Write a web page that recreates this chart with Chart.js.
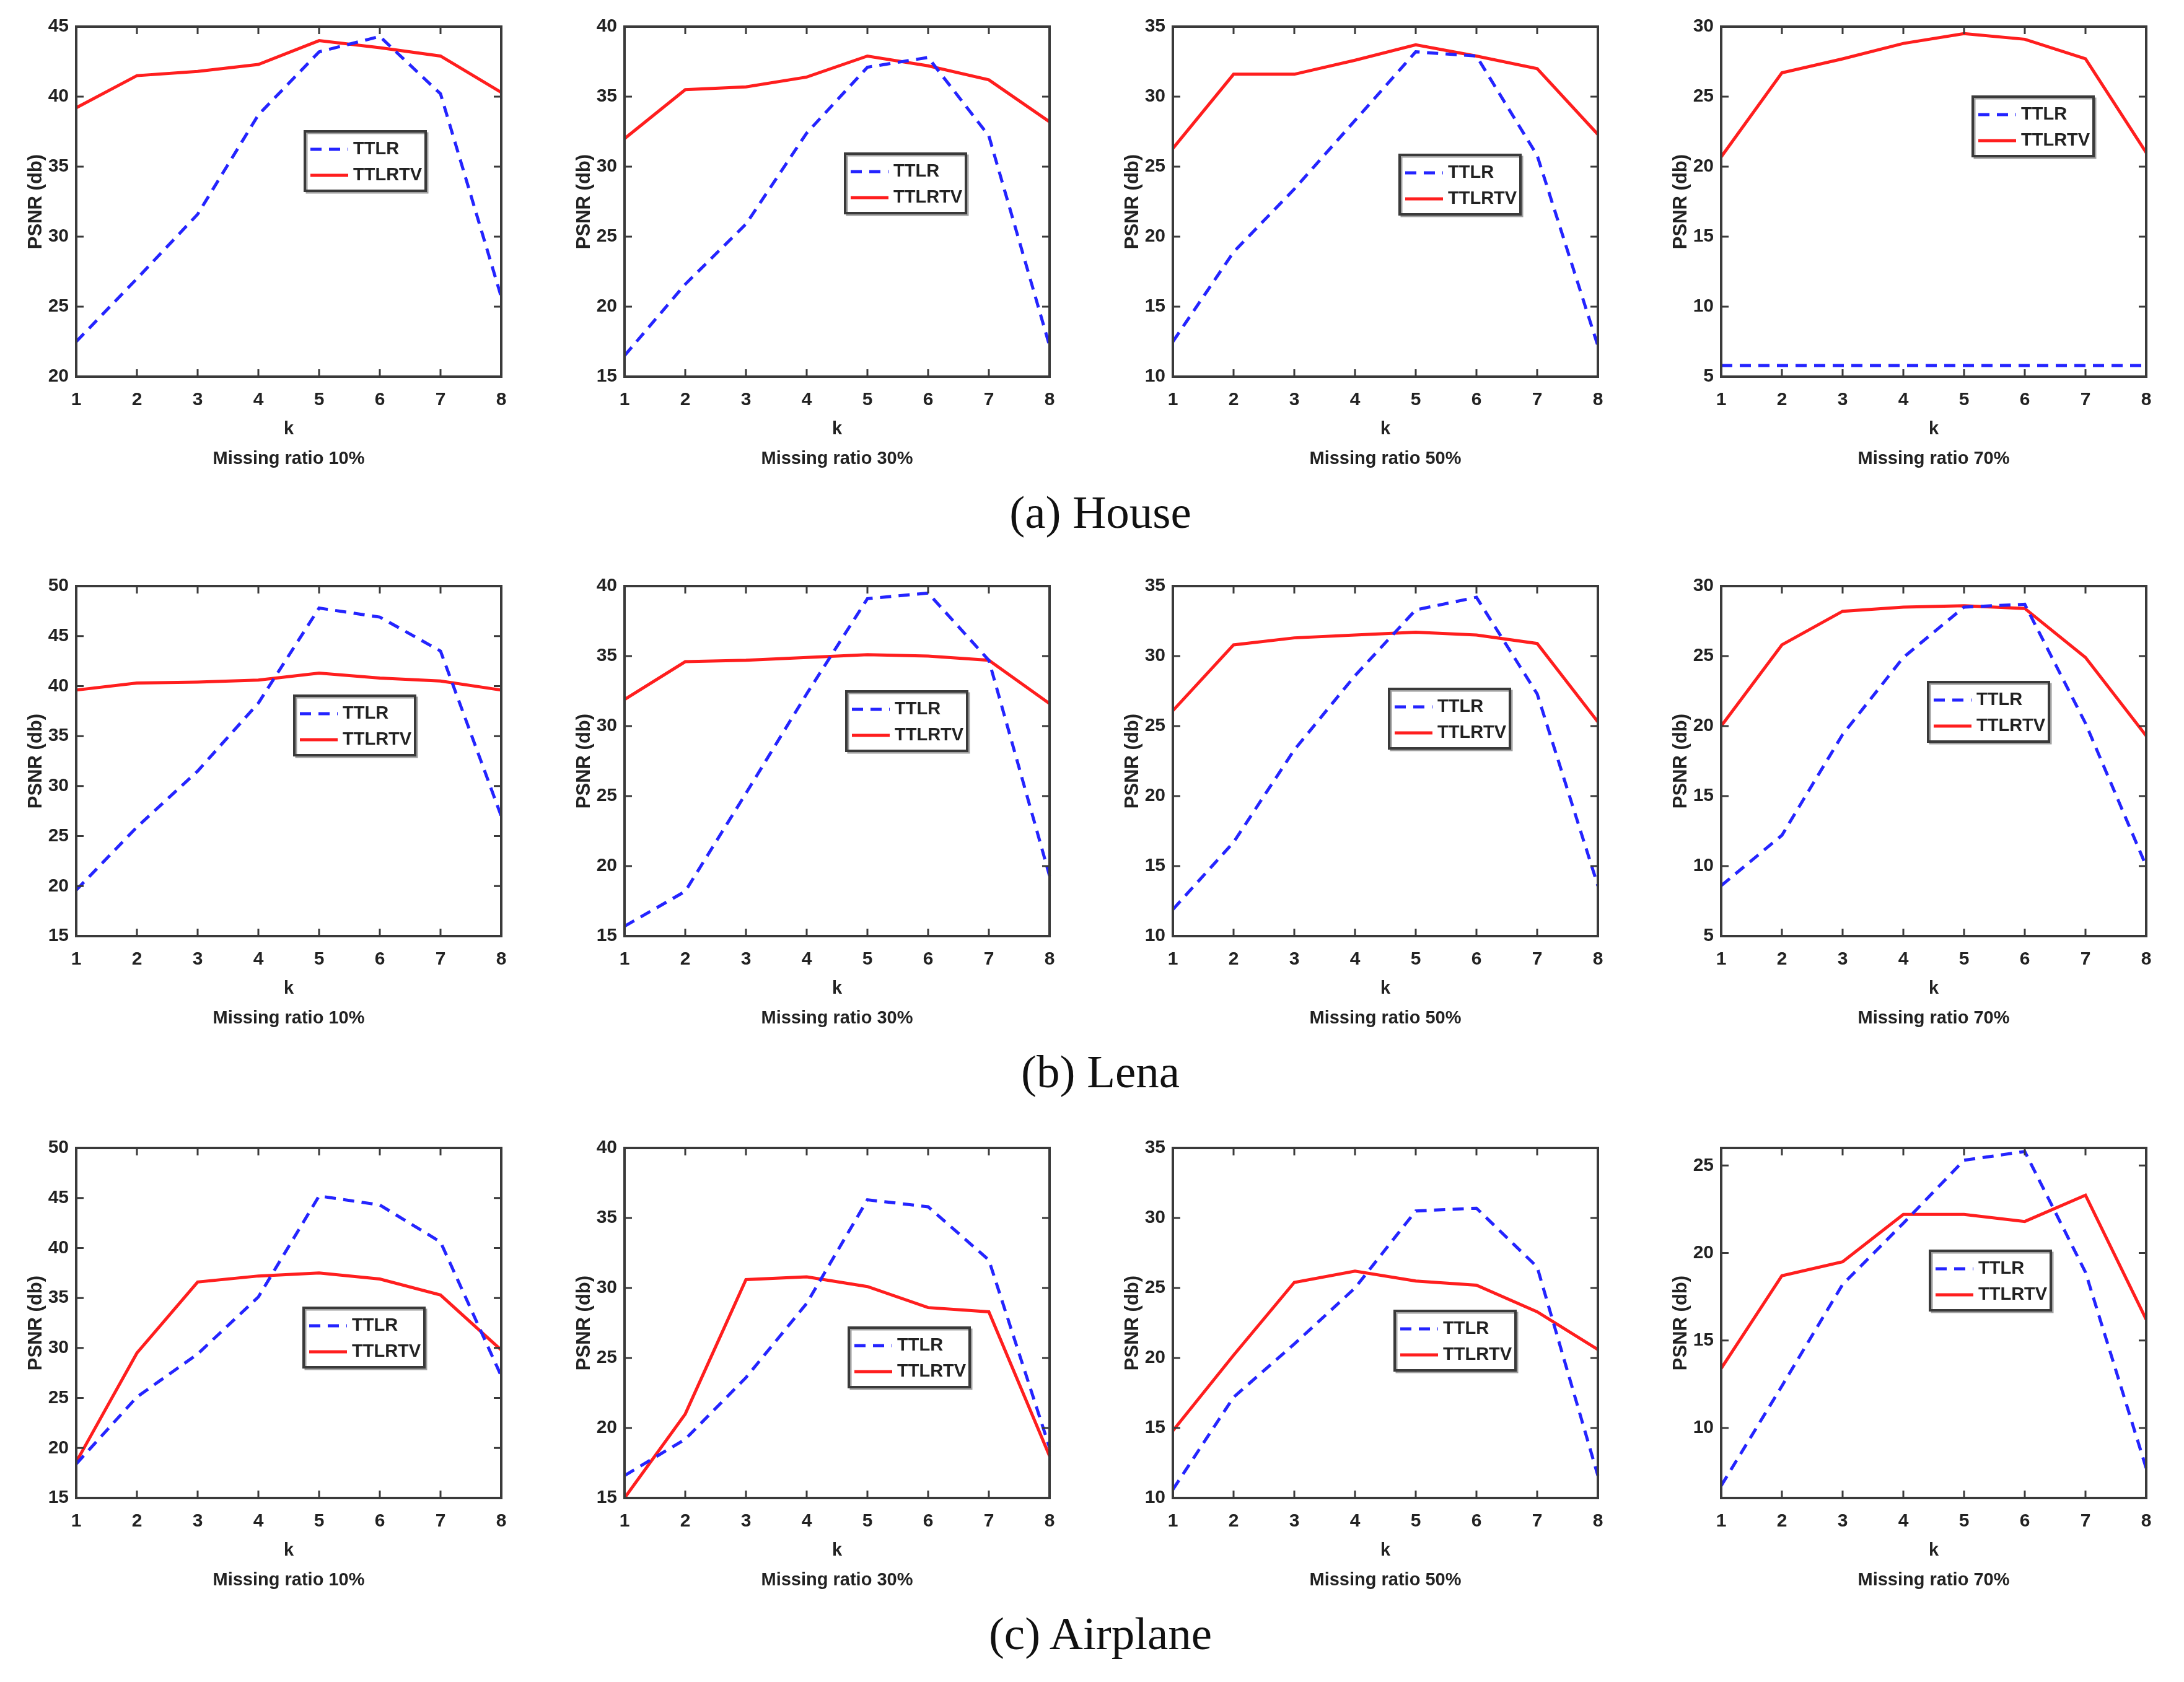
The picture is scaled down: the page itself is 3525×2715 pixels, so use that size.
<!DOCTYPE html>
<html><head><meta charset="utf-8">
<script src="https://cdn.jsdelivr.net/npm/chart.js@4.4.1/dist/chart.umd.min.js"></script>
<style>
html,body{margin:0;padding:0;background:#fff;}
body{width:3525px;height:2715px;position:relative;overflow:hidden;}
canvas{position:absolute;}
.cap{position:absolute;left:1276px;width:1000px;text-align:center;font-family:"Liberation Serif","DejaVu Serif",serif;font-size:75px;line-height:75px;color:#111;}
</style></head><body>
<script>
// ---------- data ----------
const kValues = [1, 2, 3, 4, 5, 6, 7, 8];
const missingRatios = ['10%', '30%', '50%', '70%'];
const imageCaptions = ['(a) House', '(b) Lena', '(c) Airplane'];
const seriesNames = ['TTLR', 'TTLRTV'];

// House
const house10_TTLR   = [22.5, 27.0, 31.6, 38.7, 43.2, 44.3, 40.2, 25.7];
const house10_TTLRTV = [39.2, 41.5, 41.8, 42.3, 44.0, 43.5, 42.9, 40.3];
const house30_TTLR   = [16.5, 21.6, 25.9, 32.4, 37.1, 37.8, 32.2, 17.2];
const house30_TTLRTV = [32.0, 35.5, 35.7, 36.4, 37.9, 37.2, 36.2, 33.2];
const house50_TTLR   = [12.5, 18.9, 23.4, 28.3, 33.2, 32.9, 25.8, 12.2];
const house50_TTLRTV = [26.3, 31.6, 31.6, 32.6, 33.7, 32.9, 32.0, 27.3];
const house70_TTLR   = [5.8, 5.8, 5.8, 5.8, 5.8, 5.8, 5.8, 5.8];
const house70_TTLRTV = [20.7, 26.7, 27.7, 28.8, 29.5, 29.1, 27.7, 21.0];

// Lena
const lena10_TTLR   = [19.6, 25.9, 31.5, 38.3, 47.8, 46.9, 43.5, 27.0];
const lena10_TTLRTV = [39.6, 40.3, 40.4, 40.6, 41.3, 40.8, 40.5, 39.6];
const lena30_TTLR   = [15.7, 18.2, 25.2, 32.3, 39.1, 39.5, 34.7, 19.3];
const lena30_TTLRTV = [31.9, 34.6, 34.7, 34.9, 35.1, 35.0, 34.7, 31.6];
const lena50_TTLR   = [11.9, 16.7, 23.3, 28.6, 33.3, 34.2, 27.3, 13.6];
const lena50_TTLRTV = [26.1, 30.8, 31.3, 31.5, 31.7, 31.5, 30.9, 25.3];
const lena70_TTLR   = [8.6, 12.2, 19.4, 24.9, 28.5, 28.7, 20.2, 10.0];
const lena70_TTLRTV = [20.0, 25.8, 28.2, 28.5, 28.6, 28.4, 24.9, 19.3];

// Airplane
const air10_TTLR   = [18.4, 25.1, 29.4, 35.1, 45.2, 44.3, 40.6, 27.2];
const air10_TTLRTV = [18.6, 29.5, 36.6, 37.2, 37.5, 36.9, 35.3, 29.8];
const air30_TTLR   = [16.6, 19.2, 23.6, 28.9, 36.3, 35.8, 32.0, 18.6];
const air30_TTLRTV = [15.0, 21.0, 30.6, 30.8, 30.1, 28.6, 28.3, 18.0];
const air50_TTLR   = [10.6, 17.2, 21.0, 25.0, 30.5, 30.7, 26.5, 11.6];
const air50_TTLRTV = [14.8, 20.2, 25.4, 26.2, 25.5, 25.2, 23.3, 20.6];
const air70_TTLR   = [6.7, 12.4, 18.2, 21.7, 25.3, 25.8, 18.9, 7.7];
const air70_TTLRTV = [13.4, 18.7, 19.5, 22.2, 22.2, 21.8, 23.3, 16.2];

// axis ranges and tick labels per row (columns = missing ratios)
const houseYMin = [20, 15, 10, 5];
const houseYMax = [45, 40, 35, 30];
const lenaYMin  = [15, 15, 10, 5];
const lenaYMax  = [50, 40, 35, 30];
const airYMin   = [15, 15, 10, 6];
const airYMax   = [50, 40, 35, 26];
const houseYTicks = [[20,25,30,35,40,45],[15,20,25,30,35,40],[10,15,20,25,30,35],[5,10,15,20,25,30]];
const lenaYTicks  = [[15,20,25,30,35,40,45,50],[15,20,25,30,35,40],[10,15,20,25,30,35],[5,10,15,20,25,30]];
const airYTicks   = [[15,20,25,30,35,40,45,50],[15,20,25,30,35,40],[10,15,20,25,30,35],[10,15,20,25]];

// ---------- layout ----------
const colLeft = [123, 1008, 1893, 2778];
const rowTop = [43, 946, 1853];
const plotW = 686, plotH = 565;
const yAxisW = 123, xAxisH = 160, padTop = 40, padRight = 30;
const legendOffsets = [
  [[369, 169], [356, 205], [366, 207], [406, 113]],
  [[352, 177], [358, 170], [349, 166], [334, 155]],
  [[367, 258], [362, 290], [358, 263], [337, 166]]
];
const captionTopOffset = 746;

const axisColor = '#3a3a3a';
const textColor = '#222222';
const blue = '#2424ff';
const red = '#ff1e1e';
const fam = '"Liberation Sans", Arial, sans-serif';

const rows = [
  {series: [[house10_TTLR, house10_TTLRTV], [house30_TTLR, house30_TTLRTV], [house50_TTLR, house50_TTLRTV], [house70_TTLR, house70_TTLRTV]],
   ymin: houseYMin, ymax: houseYMax, ticks: houseYTicks},
  {series: [[lena10_TTLR, lena10_TTLRTV], [lena30_TTLR, lena30_TTLRTV], [lena50_TTLR, lena50_TTLRTV], [lena70_TTLR, lena70_TTLRTV]],
   ymin: lenaYMin, ymax: lenaYMax, ticks: lenaYTicks},
  {series: [[air10_TTLR, air10_TTLRTV], [air30_TTLR, air30_TTLRTV], [air50_TTLR, air50_TTLRTV], [air70_TTLR, air70_TTLRTV]],
   ymin: airYMin, ymax: airYMax, ticks: airYTicks}
];

// box + inward ticks (MATLAB style)
const boxPlugin = {
  id: 'matlabBox',
  afterDatasetsDraw(chart) {
    const {ctx, chartArea: a} = chart;
    const x = chart.scales.x, y = chart.scales.y;
    const tl = 12;
    ctx.save();
    ctx.strokeStyle = axisColor;
    ctx.lineWidth = 3;
    ctx.beginPath();
    x.ticks.forEach((t, i) => {
      const px = x.getPixelForTick(i);
      ctx.moveTo(px, a.bottom); ctx.lineTo(px, a.bottom - tl);
      ctx.moveTo(px, a.top); ctx.lineTo(px, a.top + tl);
    });
    y.ticks.forEach(t => {
      const py = y.getPixelForValue(t.value);
      ctx.moveTo(a.left, py); ctx.lineTo(a.left + tl, py);
      ctx.moveTo(a.right, py); ctx.lineTo(a.right - tl, py);
    });
    ctx.stroke();
    ctx.lineWidth = 4;
    ctx.strokeRect(a.left, a.top, a.right - a.left, a.bottom - a.top);
    ctx.restore();
  }
};

// legend box inside the axes
const boxLegendPlugin = {
  id: 'boxLegend',
  afterDraw(chart, args, opts) {
    const {ctx, chartArea: a} = chart;
    const bx = a.left + opts.dx, by = a.top + opts.dy, bw = 195, bh = 96;
    ctx.save();
    ctx.fillStyle = '#fff';
    ctx.fillRect(bx, by, bw, bh);
    ctx.strokeStyle = '#a0a0a0';
    ctx.lineWidth = 3;
    ctx.strokeRect(bx + 3, by + 3, bw, bh);
    ctx.strokeStyle = axisColor;
    ctx.lineWidth = 4;
    ctx.strokeRect(bx, by, bw, bh);
    chart.data.datasets.forEach((ds, i) => {
      const ey = by + 29 + i * 42;
      ctx.strokeStyle = ds.borderColor;
      ctx.lineWidth = ds.borderWidth;
      ctx.setLineDash(ds.borderDash || []);
      ctx.beginPath();
      ctx.moveTo(bx + 9, ey); ctx.lineTo(bx + 70, ey);
      ctx.stroke();
      ctx.setLineDash([]);
      ctx.fillStyle = textColor;
      ctx.font = 'bold 29px ' + fam;
      ctx.textBaseline = 'middle';
      ctx.textAlign = 'left';
      ctx.fillText(ds.label, bx + 78, ey);
    });
    ctx.restore();
  }
};

rows.forEach((row, r) => {
  row.series.forEach((pair, c) => {
    const cv = document.createElement('canvas');
    const w = yAxisW + plotW + padRight, h = padTop + plotH + xAxisH;
    cv.width = w; cv.height = h;
    cv.style.width = w + 'px'; cv.style.height = h + 'px';
    cv.style.left = (colLeft[c] - yAxisW) + 'px';
    cv.style.top = (rowTop[r] - padTop) + 'px';
    document.body.appendChild(cv);
    const tickList = row.ticks[c];
    new Chart(cv, {
      type: 'line',
      data: {
        labels: kValues.map(String),
        datasets: [
          {label: seriesNames[0], data: pair[0], borderColor: blue, backgroundColor: blue, borderWidth: 5,
           borderDash: [18, 12], pointRadius: 0, fill: false, tension: 0},
          {label: seriesNames[1], data: pair[1], borderColor: red, backgroundColor: red, borderWidth: 5,
           pointRadius: 0, fill: false, tension: 0}
        ]
      },
      options: {
        responsive: false, animation: false, devicePixelRatio: 1,
        layout: {padding: {top: padTop, right: padRight, left: 0, bottom: 0}},
        plugins: {
          legend: {display: false}, tooltip: {enabled: false},
          boxLegend: {dx: legendOffsets[r][c][0], dy: legendOffsets[r][c][1]}
        },
        scales: {
          x: {
            type: 'category', offset: false,
            grid: {display: false, drawTicks: false}, border: {display: false},
            ticks: {color: textColor, font: {family: fam, size: 30, weight: 'bold'}, padding: 20, maxRotation: 0, autoSkip: false},
            title: {display: true, text: ['k', 'Missing ratio ' + missingRatios[c]], color: textColor,
                    font: {family: fam, size: 29, weight: 'bold', lineHeight: 48 / 29}, padding: {top: 0, bottom: 3}},
            afterFit(s) { s.height = xAxisH; }
          },
          y: {
            type: 'linear', min: row.ymin[c], max: row.ymax[c],
            grid: {display: false, drawTicks: false}, border: {display: false},
            afterBuildTicks(s) { s.ticks = tickList.map(v => ({value: v})); },
            ticks: {color: textColor, font: {family: fam, size: 30, weight: 'bold'}, padding: 12},
            title: {display: true, text: 'PSNR (db)', color: textColor,
                    font: {family: fam, size: 31, weight: 'bold', lineHeight: 1.2}, padding: {top: 40, bottom: 0}},
            afterFit(s) { s.width = yAxisW; }
          }
        }
      },
      plugins: [boxPlugin, boxLegendPlugin]
    });
  });
  const cap = document.createElement('div');
  cap.className = 'cap';
  cap.style.top = (rowTop[r] + captionTopOffset) + 'px';
  cap.textContent = imageCaptions[r];
  document.body.appendChild(cap);
});
</script>
</body></html>
